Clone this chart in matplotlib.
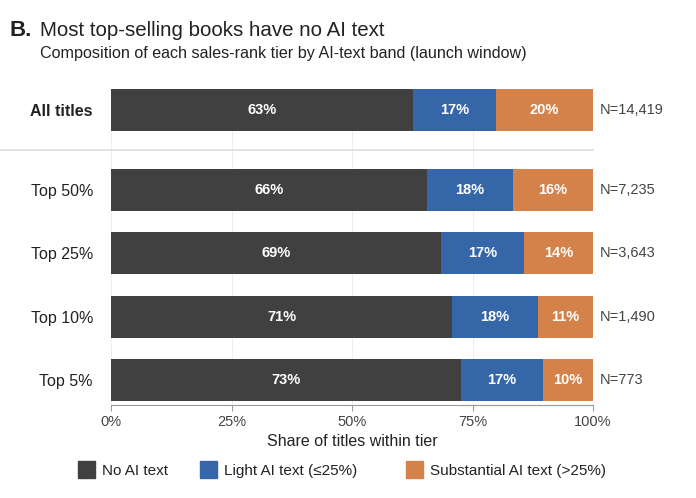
import numpy as np
import matplotlib.pyplot as plt
from matplotlib.patches import Rectangle

plt.rcParams['font.family'] = ['Liberation Sans', 'DejaVu Sans']

tiers = ["All titles", "Top 50%", "Top 25%", "Top 10%", "Top 5%"]
no_ai = [62.7, 65.6, 68.5, 70.8, 72.7]
light_ai = [17.1, 17.8, 17.2, 17.8, 16.9]
subst_ai = [20.2, 16.6, 14.3, 11.4, 10.4]
no_ai_lbl = ["63%", "66%", "69%", "71%", "73%"]
light_lbl = ["17%", "18%", "17%", "18%", "17%"]
subst_lbl = ["20%", "16%", "14%", "11%", "10%"]
counts = ["N=14,419", "N=7,235", "N=3,643", "N=1,490", "N=773"]

colors = ["#404040", "#3566a8", "#d4814a"]
names = ["No AI text", "Light AI text (\u226425%)", "Substantial AI text (>25%)"]

ypos = np.array([0, 1.26, 2.26, 3.26, 4.26])
h = 0.66

W, H = 696, 498
fig = plt.figure(figsize=(W / 100, H / 100), dpi=100)
ax = fig.add_axes([111 / W, 93 / H, 482 / W, 316 / H])

left = np.zeros(len(tiers))
for vals, lbls, c, nm in zip([no_ai, light_ai, subst_ai],
                             [no_ai_lbl, light_lbl, subst_lbl], colors, names):
    bars = ax.barh(ypos, vals, left=left, height=h, color=c, label=nm, zorder=3)
    for b, l in zip(bars, lbls):
        ax.text(b.get_x() + b.get_width() / 2, b.get_y() + h / 2, l,
                ha='center', va='center', color='white', fontsize=10.5,
                fontweight='bold', zorder=4)
    left += np.array(vals)

for y, n in zip(ypos, counts):
    ax.text(101.5, y, n, ha='left', va='center', fontsize=10.5, color='#444444')

ax.set_xlim(0, 100)
ax.set_ylim(4.65, -0.33)
ax.set_xticks([0, 25, 50, 75, 100])
ax.set_xticklabels(["0%", "25%", "50%", "75%", "100%"], fontsize=10.5, color='#444444')
ax.set_yticks(ypos)
ax.set_yticklabels(tiers, fontsize=11.5, color='#222222')
ax.get_yticklabels()[0].set_fontweight('bold')
ax.tick_params(axis='y', length=0, pad=13)
ax.tick_params(axis='x', length=4, color='#999999', pad=3)
ax.set_xlabel("Share of titles within tier", fontsize=11.5, color='#222222', labelpad=4)

for s in ['top', 'right', 'left']:
    ax.spines[s].set_visible(False)
ax.spines['bottom'].set_color('#999999')
ax.grid(axis='x', color='#eeeeee', lw=0.8, zorder=0)

# separator between "All titles" and the rank tiers
ax.axhline(0.63, xmin=-0.235, xmax=1.0, color='#dddddd', lw=1.2, clip_on=False)

fig.text(0.014, 0.938, "B.", fontsize=16, fontweight='bold', color='#222222', va='center')
fig.text(0.057, 0.938, "Most top-selling books have no AI text", fontsize=14.8,
         color='#222222', va='center')
fig.text(0.057, 0.892, "Composition of each sales-rank tier by AI-text band (launch window)",
         fontsize=11.6, color='#222222', va='center')

# legend laid out by hand to match the fixed-width entries
sq_x = [78, 200, 406]
ly = 469
for x0, c, nm in zip(sq_x, colors, names):
    fig.patches.append(Rectangle((x0 / W, (H - ly - 8.5) / H), 17 / W, 17 / H,
                                 transform=fig.transFigure, color=c))
    fig.text((x0 + 24) / W, (H - ly - 2) / H, nm, fontsize=11, color='#222222',
             va='center', ha='left')

fig.savefig("out.png", dpi=100)
